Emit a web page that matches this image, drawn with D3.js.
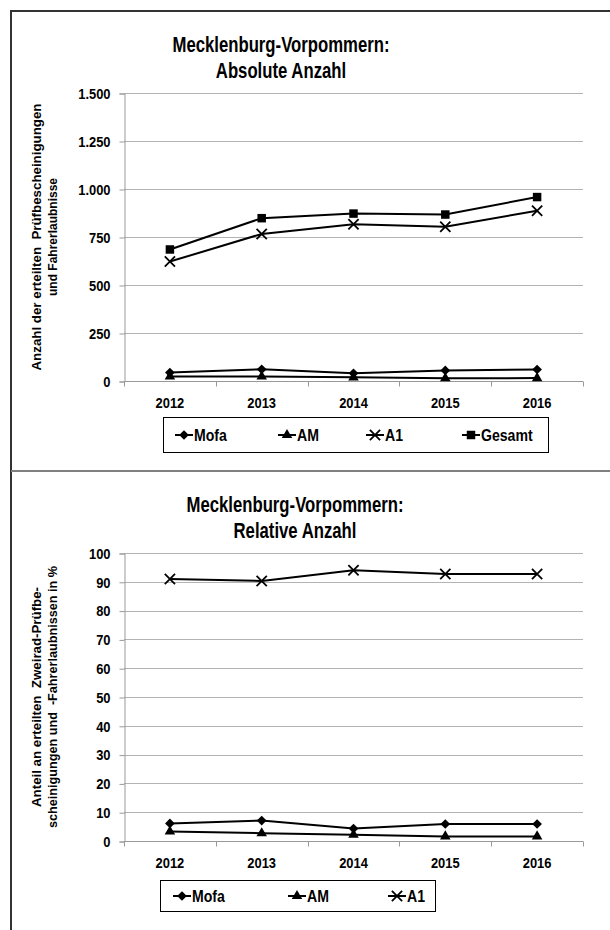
<!DOCTYPE html>
<html>
<head>
<meta charset="utf-8">
<script src="https://cdn.jsdelivr.net/npm/d3@7"></script>
<style>
  html, body { margin: 0; padding: 0; background: #fff; }
  svg { display: block; font-family: "Liberation Sans", Arial, sans-serif; }
</style>
</head>
<body>
<svg id="chart" width="610" height="930"></svg>
<script>
// Jahre
const years = ["2012", "2013", "2014", "2015", "2016"];

// Absolute Anzahl
const absMofa   = [44, 61, 40, 55, 60];
const absAM     = [23, 23, 19, 14, 15];
const absA1     = [622, 766, 816, 803, 887];
const absGesamt = [685, 848, 872, 867, 958];
const absTicks  = [0, 250, 500, 750, 1000, 1250, 1500];
const absTickLabels = ["0", "250", "500", "750", "1.000", "1.250", "1.500"];

// Relative Anzahl in %
const relMofa = [6.1, 7.1, 4.3, 5.9, 5.9];
const relAM   = [3.3, 2.7, 2.2, 1.6, 1.6];
const relA1   = [91.0, 90.3, 94.0, 92.7, 92.7];
const relTicks = [0, 10, 20, 30, 40, 50, 60, 70, 80, 90, 100];
const relTickLabels = relTicks.map(String);

const svg = d3.select("#chart");

// narrow the bold glyphs horizontally, keeping their height
function condense(sel, factor) {
  sel.each(function () {
    const w = this.getComputedTextLength();
    d3.select(this).attr("textLength", w * factor).attr("lengthAdjust", "spacingAndGlyphs");
  });
}

// frame lines
svg.append("line").attr("x1", 11).attr("x2", 610).attr("y1", 11).attr("y2", 11)
  .attr("stroke", "#333").attr("stroke-width", 2);
svg.append("line").attr("x1", 11).attr("x2", 11).attr("y1", 10).attr("y2", 930)
  .attr("stroke", "#333").attr("stroke-width", 2);
svg.append("line").attr("x1", 11).attr("x2", 610).attr("y1", 471).attr("y2", 471)
  .attr("stroke", "#808080").attr("stroke-width", 2);

const markerSyms = {
  diamond: d3.symbol().type(d3.symbolDiamond2).size(60),
  triangle: d3.symbol().type(d3.symbolTriangle).size(48),
  cross: d3.symbol().type(d3.symbolTimes).size(70),
  square: d3.symbol().type(d3.symbolSquare).size(72)
};

function drawMarker(g, kind, x, y) {
  const p = g.append("path")
    .attr("d", markerSyms[kind]())
    .attr("transform", `translate(${x},${y})`);
  if (kind === "cross") {
    p.attr("fill", "none").attr("stroke", "#000").attr("stroke-width", 1.8);
  } else {
    p.attr("fill", "#000");
  }
}

function drawPanel(opt) {
  const g = svg.append("g");
  const x = d3.scaleBand().domain(years).range([opt.x0, opt.x1]);
  const y = d3.scaleLinear().domain([0, opt.ticks[opt.ticks.length - 1]]).range([opt.y0, opt.y1]);

  // title
  opt.title.forEach((t, i) => {
    g.append("text")
      .attr("x", opt.titleX).attr("y", opt.titleY + i * 26)
      .attr("text-anchor", "middle")
      .attr("font-size", 22).attr("font-weight", "bold")
      .text(t)
      .call(condense, 0.76);
  });

  // gridlines
  g.append("g").selectAll("line").data(opt.ticks.slice(1)).join("line")
    .attr("x1", opt.x0).attr("x2", opt.x1)
    .attr("y1", d => Math.round(y(d)) + 0.5).attr("y2", d => Math.round(y(d)) + 0.5)
    .attr("stroke", "#b3b3b3").attr("stroke-width", 1);

  // y axis
  const yAxis = d3.axisLeft(y).tickValues(opt.ticks)
    .tickFormat((d, i) => opt.tickLabels[i]).tickSize(5).tickPadding(9);
  const ya = g.append("g").attr("transform", `translate(${opt.x0 + 0.5},0.5)`).call(yAxis);
  ya.select(".domain").attr("stroke", "#999");
  ya.selectAll(".tick line").attr("stroke", "#999");
  ya.selectAll(".tick text").attr("font-size", 15).attr("font-weight", "bold")
    .attr("font-family", "Liberation Sans, Arial, sans-serif").attr("fill", "#000")
    .call(condense, 0.86);

  // x axis
  const xa = g.append("g").attr("transform", `translate(0,${Math.round(opt.y0) + 0.5})`);
  xa.append("line").attr("x1", opt.x0).attr("x2", opt.x1).attr("stroke", "#999");
  const bounds = years.map(d => x(d)).concat([opt.x1]);
  xa.selectAll("line.tk").data(bounds).join("line").attr("class", "tk")
    .attr("x1", d => Math.round(d) + 0.5).attr("x2", d => Math.round(d) + 0.5)
    .attr("y1", 0).attr("y2", 5).attr("stroke", "#999");
  xa.selectAll("text").data(years).join("text")
    .attr("x", d => x(d) + x.bandwidth() / 2).attr("y", 26)
    .attr("text-anchor", "middle").attr("font-size", 15).attr("font-weight", "bold")
    .text(d => d)
    .call(condense, 0.86);

  // y axis title
  const ty = g.append("text")
    .attr("transform", `translate(${opt.yTitleX},${(opt.y0 + opt.y1) / 2}) rotate(-90)`)
    .attr("text-anchor", "middle").attr("font-size", 13).attr("font-weight", "bold");
  opt.yTitle.forEach((t, i) => {
    ty.append("tspan").attr("x", 0).attr("dy", i === 0 ? 0 : 16)
      .attr("textLength", opt.yTitleW[i]).attr("lengthAdjust", "spacingAndGlyphs")
      .style("white-space", "pre").text(t);
  });

  // series
  const line = d3.line().x((d, i) => x(years[i]) + x.bandwidth() / 2).y(d => y(d));
  opt.series.forEach(s => {
    g.append("path").datum(s.values).attr("d", line)
      .attr("fill", "none").attr("stroke", "#000").attr("stroke-width", 2);
    s.values.forEach((v, i) => drawMarker(g, s.marker, x(years[i]) + x.bandwidth() / 2, y(v)));
  });

  // legend
  const lg = g.append("g");
  lg.append("rect").attr("x", opt.legend.x + 0.5).attr("y", opt.legend.y + 0.5)
    .attr("width", opt.legend.w).attr("height", opt.legend.h)
    .attr("fill", "#fff").attr("stroke", "#000").attr("stroke-width", 1);
  const cy = opt.legend.y + opt.legend.h / 2 + 0.5;
  opt.series.forEach((s, i) => {
    const lx = opt.legend.items[i];
    lg.append("line").attr("x1", lx).attr("x2", lx + 18).attr("y1", cy).attr("y2", cy)
      .attr("stroke", "#000").attr("stroke-width", 2);
    drawMarker(lg, s.marker, lx + 9, cy);
    lg.append("text").attr("x", lx + 19).attr("y", cy + 5.5)
      .attr("font-size", 16).attr("font-weight", "bold").text(s.name)
      .call(condense, 0.88);
  });
}

drawPanel({
  x0: 124, x1: 583, y0: 381, y1: 93,
  ticks: absTicks, tickLabels: absTickLabels,
  title: ["Mecklenburg-Vorpommern:", "Absolute Anzahl"],
  titleX: 281, titleY: 52,
  yTitle: ["Anzahl der erteilten  Prüfbescheinigungen", "und Fahrerlaubnisse"],
  yTitleW: [267, 118], yTitleX: 41,
  series: [
    { name: "Mofa", values: absMofa, marker: "diamond" },
    { name: "AM", values: absAM, marker: "triangle" },
    { name: "A1", values: absA1, marker: "cross" },
    { name: "Gesamt", values: absGesamt, marker: "square" }
  ],
  legend: { x: 163, y: 417, w: 385, h: 35, items: [175, 278, 366, 462] }
});

drawPanel({
  x0: 124, x1: 583, y0: 841, y1: 553,
  ticks: relTicks, tickLabels: relTickLabels,
  title: ["Mecklenburg-Vorpommern:", "Relative Anzahl"],
  titleX: 295, titleY: 512,
  yTitle: ["Anteil an erteilten  Zweirad-Prüfbe-", "scheinigungen und  -Fahrerlaubnissen in %"],
  yTitleW: [220, 262], yTitleX: 41,
  series: [
    { name: "Mofa", values: relMofa, marker: "diamond" },
    { name: "AM", values: relAM, marker: "triangle" },
    { name: "A1", values: relA1, marker: "cross" }
  ],
  legend: { x: 160, y: 880, w: 275, h: 31, items: [173, 288, 388] }
});
</script>
</body>
</html>
